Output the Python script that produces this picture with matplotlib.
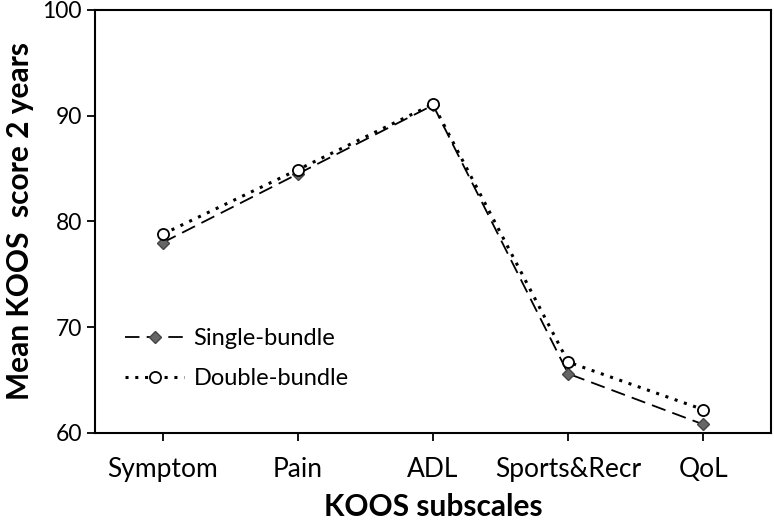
import numpy as np
from matplotlib import pyplot as plt

plt.rcParams['font.family'] = ['Lato', 'DejaVu Sans']

subscales = ['Symptom', 'Pain', 'ADL', 'Sports&Recr', 'QoL']
single_bundle = [78.0, 84.5, 91.0, 65.6, 60.8]
double_bundle = [78.8, 84.9, 91.1, 66.7, 62.2]
y_ticks = [60, 70, 80, 90, 100]

fig = plt.figure(figsize=(7.74, 5.26), dpi=100)
ax = fig.add_axes([0.123, 0.177, 0.873, 0.804])

x = np.arange(len(subscales))
ax.plot(x, single_bundle, color='black', linestyle=(0, (8, 4)), linewidth=1.3,
        marker='D', markersize=6, markerfacecolor='#666666', markeredgecolor='#444444',
        label='Single-bundle')
ax.plot(x, double_bundle, color='black', linestyle=(0, (1, 2.2)), linewidth=2.2,
        marker='o', markersize=8, markerfacecolor='white', markeredgecolor='black',
        markeredgewidth=1.3, label='Double-bundle')

ax.set_xlim(-0.5, 4.5)
ax.set_ylim(60, 100)
ax.set_xticks(x)
ax.set_xticklabels(subscales, fontsize=19)
ax.set_yticks(y_ticks)
ax.tick_params(axis='y', labelsize=16.5, length=6, width=1.3)
ax.tick_params(axis='x', length=6, width=1.3, pad=11)
for s in ax.spines.values():
    s.set_linewidth(1.5)

ax.set_xlabel('KOOS subscales', fontsize=21.5, fontweight='bold', labelpad=8)
ax.set_ylabel('Mean KOOS  score 2 years', fontsize=21.5, fontweight='bold', labelpad=6)

ax.legend(loc='center left', bbox_to_anchor=(0.013, 0.176), frameon=False, fontsize=17,
          handlelength=2.5, handletextpad=0.4, labelspacing=0.8)

fig.savefig('out.png', dpi=100)
